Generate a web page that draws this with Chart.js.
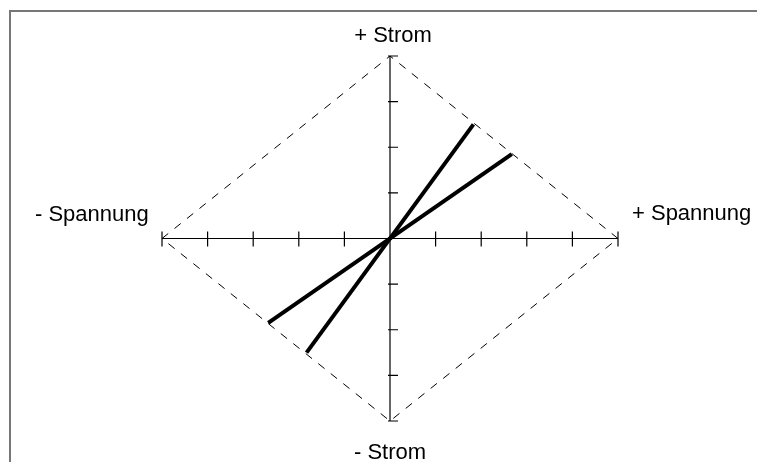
<!DOCTYPE html>
<html>
<head>
<meta charset="utf-8">
<script src="https://cdn.jsdelivr.net/npm/chart.js@4"></script>
<style>
  body { margin: 0; background: #fff; }
  canvas { display: block; }
</style>
</head>
<body>
<canvas id="chart_kennlinie" width="757" height="462"></canvas>
<script>
// axis ranges (units) and tick positions
const spannungTicks = [-5, -4, -3, -2, -1, 0, 1, 2, 3, 4, 5];
const stromTicks = [-4, -3, -2, -1, 0, 1, 2, 3, 4];

// dashed diamond bounding the characteristic
const diamondX = [-5, 0, 5, 0, -5];
const diamondY = [0, 4, 0, -4, 0];

// two characteristic lines through the origin
const steepX = [-1.83, 1.83];
const steepY = [-2.5, 2.5];
const flatX = [-2.67, 2.67];
const flatY = [-1.85, 1.85];

// axis labels
const labelTop = '+ Strom';
const labelBottom = '- Strom';
const labelLeft = '- Spannung';
const labelRight = '+ Spannung';

function toPoints(xs, ys) {
    return xs.map((x, i) => ({ x: x, y: ys[i] }));
}

const axisPlugin = {
    id: 'axisPlugin',
    beforeDraw(chart) {
        const ctx = chart.ctx;
        // frame (left and top edge only)
        ctx.save();
        ctx.strokeStyle = '#777';
        ctx.lineWidth = 2;
        ctx.beginPath();
        ctx.moveTo(10, 462);
        ctx.lineTo(10, 11);
        ctx.lineTo(757, 11);
        ctx.stroke();
        ctx.restore();
    },
    afterDatasetsDraw(chart) {
        const ctx = chart.ctx;
        const sx = chart.scales.x, sy = chart.scales.y;
        const x0 = sx.getPixelForValue(0), y0 = sy.getPixelForValue(0);
        ctx.save();
        ctx.strokeStyle = '#000';
        ctx.lineWidth = 1.2;
        ctx.beginPath();
        spannungTicks.forEach(v => {
            if (v === 0) return;
            const px = sx.getPixelForValue(v);
            ctx.moveTo(px, y0 - 7);
            ctx.lineTo(px, y0 + 8);
        });
        stromTicks.forEach(v => {
            if (v === 0) return;
            const py = sy.getPixelForValue(v);
            ctx.moveTo(x0 - 2, py);
            ctx.lineTo(x0 + 8, py);
        });
        ctx.stroke();

        ctx.fillStyle = '#000';
        ctx.font = '22px "Liberation Sans", Arial, sans-serif';
        ctx.textBaseline = 'alphabetic';
        ctx.textAlign = 'center';
        ctx.fillText(labelTop, x0 + 3, 42);
        ctx.fillText(labelBottom, x0, 459);
        ctx.textAlign = 'left';
        ctx.fillText(labelLeft, 35, 221);
        ctx.fillText(labelRight, 632, 220);
        ctx.restore();
    }
};

new Chart(document.getElementById('chart_kennlinie'), {
    type: 'scatter',
    data: {
        datasets: [
            { data: toPoints([-5, 5], [0, 0]), showLine: true, borderColor: '#000', borderWidth: 1.2, pointRadius: 0, clip: false },
            { data: toPoints([0, 0], [-4, 4]), showLine: true, borderColor: '#000', borderWidth: 1.2, pointRadius: 0, clip: false },
            { data: toPoints(diamondX, diamondY), showLine: true, borderColor: '#000', borderWidth: 1, borderDash: [8, 8], pointRadius: 0, clip: false },
            { data: toPoints(steepX, steepY), showLine: true, borderColor: '#000', borderWidth: 4, pointRadius: 0, clip: false },
            { data: toPoints(flatX, flatY), showLine: true, borderColor: '#000', borderWidth: 4, pointRadius: 0, clip: false }
        ]
    },
    options: {
        responsive: false,
        animation: false,
        layout: { padding: { left: 162, right: 139, top: 56, bottom: 41 } },
        scales: {
            x: { type: 'linear', min: -5, max: 5, display: false },
            y: { type: 'linear', min: -4, max: 4, display: false }
        },
        plugins: {
            legend: { display: false },
            tooltip: { enabled: false }
        }
    },
    plugins: [axisPlugin]
});
</script>
</body>
</html>
